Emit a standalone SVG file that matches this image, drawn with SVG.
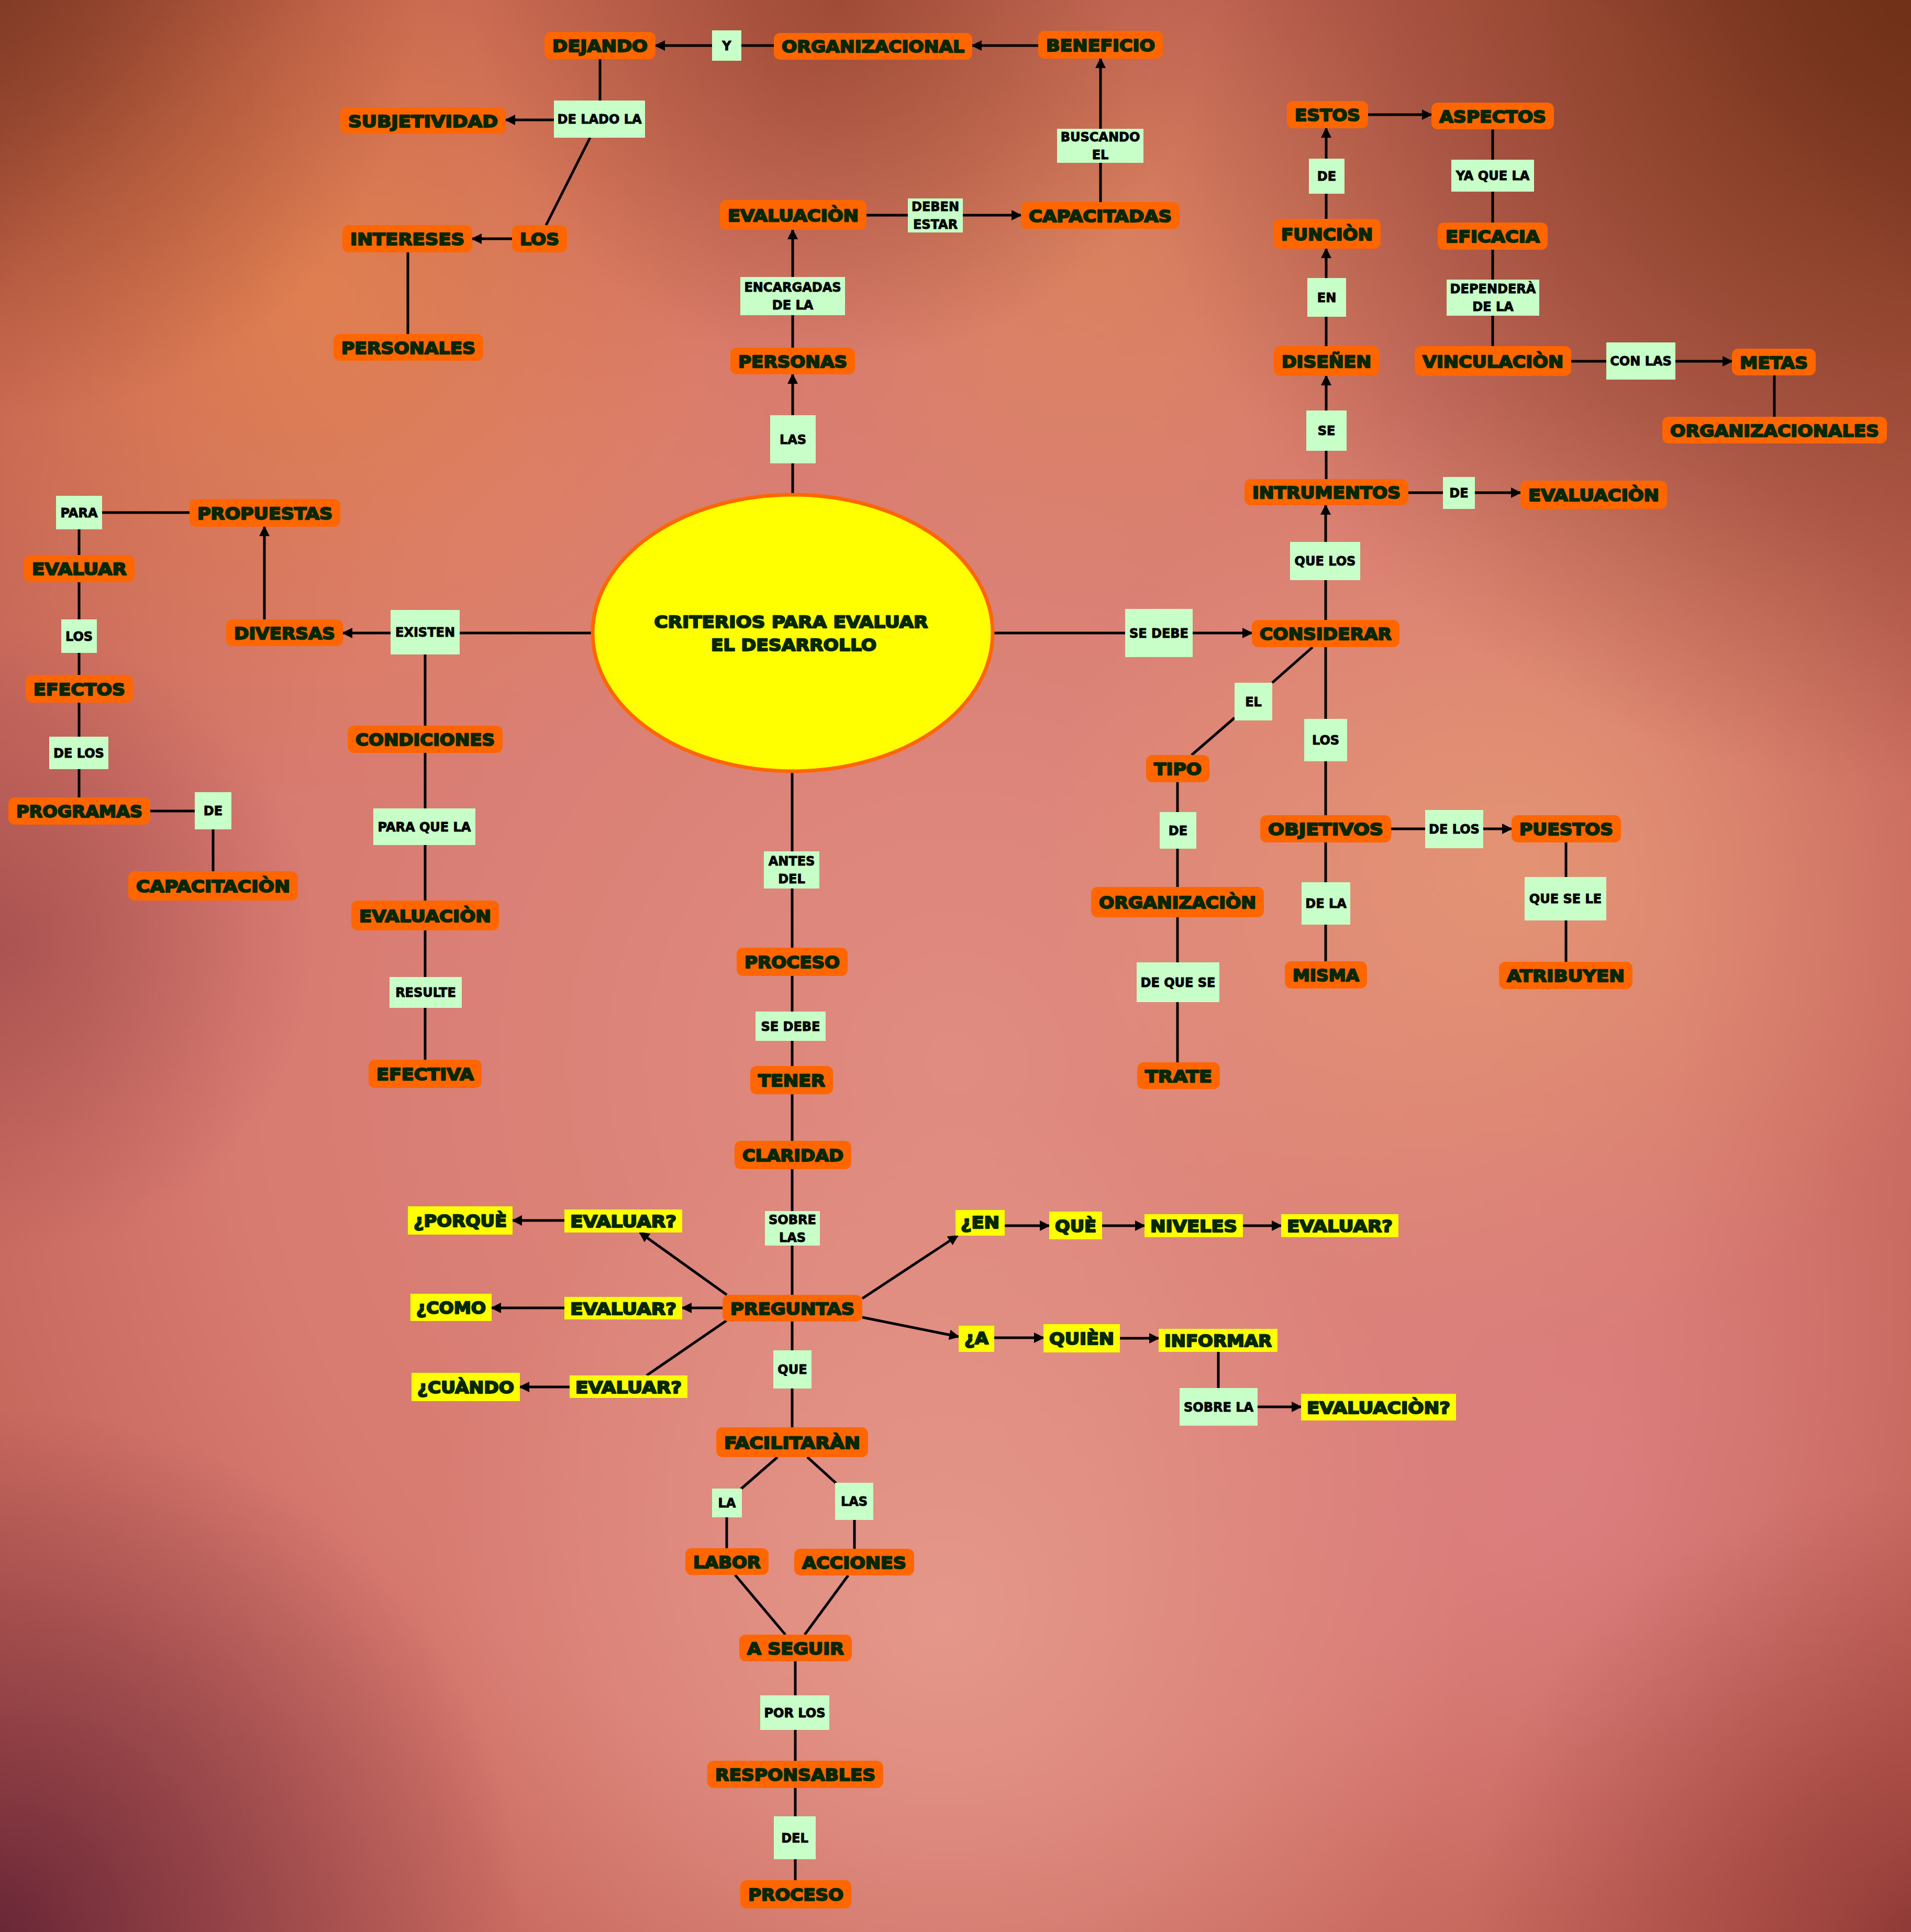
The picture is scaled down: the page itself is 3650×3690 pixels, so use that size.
<svg xmlns="http://www.w3.org/2000/svg" width="3650" height="3690" viewBox="0 0 3650 3690">
<style>
.o rect{fill:#ff6600}
.g rect{fill:#c8fec8}
.y rect{fill:#ffff00}
text{font-family:"DejaVu Sans","Liberation Sans",sans-serif;font-weight:bold;text-anchor:middle;stroke-linejoin:round}
.o text,.y text,.c text{font-size:32px;fill:#062806;stroke:#062806;stroke-width:2.3px}
.g text{font-size:24px;fill:#000;stroke:#000;stroke-width:1px}
#edges line{stroke:#000;stroke-width:5}
#edges line.ar{marker-end:url(#ar)}
</style>
<defs>
<marker id="ar" viewBox="0 0 20 20" refX="18" refY="10" markerWidth="20" markerHeight="20" markerUnits="userSpaceOnUse" orient="auto"><path d="M0,0 L20,10 L0,20 z" fill="#000"/></marker>
<radialGradient id="bgBase" cx="0.5" cy="0.55" r="0.75"><stop offset="0" stop-color="#e08c80"/><stop offset="0.5" stop-color="#d77a70"/><stop offset="0.85" stop-color="#bc5c50"/><stop offset="1" stop-color="#803434"/></radialGradient>
<radialGradient id="gOrange" cx="600" cy="550" r="1000" gradientUnits="userSpaceOnUse"><stop offset="0" stop-color="#e8884a" stop-opacity="0.7"/><stop offset="1" stop-color="#e8884a" stop-opacity="0"/></radialGradient>
<radialGradient id="gTR" cx="3650" cy="0" r="1500" gradientUnits="userSpaceOnUse"><stop offset="0" stop-color="#6e3015" stop-opacity="0.95"/><stop offset="1" stop-color="#7a3818" stop-opacity="0"/></radialGradient>
<radialGradient id="gTL" cx="0" cy="0" r="800" gradientUnits="userSpaceOnUse"><stop offset="0" stop-color="#7e3a20" stop-opacity="0.8"/><stop offset="1" stop-color="#8a3a20" stop-opacity="0"/></radialGradient>
<radialGradient id="gTop" cx="1600" cy="0" r="700" gradientUnits="userSpaceOnUse"><stop offset="0" stop-color="#8e4024" stop-opacity="0.7"/><stop offset="1" stop-color="#8e4024" stop-opacity="0"/></radialGradient>
<radialGradient id="gPeach" cx="2900" cy="1650" r="900" gradientUnits="userSpaceOnUse"><stop offset="0" stop-color="#eaa274" stop-opacity="0.6"/><stop offset="1" stop-color="#eaa274" stop-opacity="0"/></radialGradient>
<radialGradient id="gPeach2" cx="2100" cy="500" r="700" gradientUnits="userSpaceOnUse"><stop offset="0" stop-color="#e09050" stop-opacity="0.45"/><stop offset="1" stop-color="#e09050" stop-opacity="0"/></radialGradient>
<radialGradient id="gPink" cx="1800" cy="3100" r="1000" gradientUnits="userSpaceOnUse"><stop offset="0" stop-color="#eba898" stop-opacity="0.6"/><stop offset="1" stop-color="#eba898" stop-opacity="0"/></radialGradient>
<radialGradient id="gMag" cx="3000" cy="2850" r="800" gradientUnits="userSpaceOnUse"><stop offset="0" stop-color="#e0848e" stop-opacity="0.5"/><stop offset="1" stop-color="#e0848e" stop-opacity="0"/></radialGradient>
<radialGradient id="gBL" cx="0" cy="3690" r="1000" gradientUnits="userSpaceOnUse"><stop offset="0" stop-color="#5e2034" stop-opacity="0.85"/><stop offset="1" stop-color="#6a2438" stop-opacity="0"/></radialGradient>
<radialGradient id="gBR" cx="3650" cy="3690" r="850" gradientUnits="userSpaceOnUse"><stop offset="0" stop-color="#7e2c2c" stop-opacity="0.6"/><stop offset="1" stop-color="#8a3030" stop-opacity="0"/></radialGradient>
<radialGradient id="gLeft" cx="0" cy="1800" r="600" gradientUnits="userSpaceOnUse"><stop offset="0" stop-color="#8a3a40" stop-opacity="0.5"/><stop offset="1" stop-color="#8a3a40" stop-opacity="0"/></radialGradient>
</defs>
<g id="background">
<rect width="3650" height="3690" fill="url(#bgBase)"/>
<rect width="3650" height="3690" fill="url(#gOrange)"/>
<rect width="3650" height="3690" fill="url(#gPeach)"/>
<rect width="3650" height="3690" fill="url(#gPeach2)"/>
<rect width="3650" height="3690" fill="url(#gPink)"/>
<rect width="3650" height="3690" fill="url(#gMag)"/>
<rect width="3650" height="3690" fill="url(#gTR)"/>
<rect width="3650" height="3690" fill="url(#gTL)"/>
<rect width="3650" height="3690" fill="url(#gTop)"/>
<rect width="3650" height="3690" fill="url(#gBL)"/>
<rect width="3650" height="3690" fill="url(#gBR)"/>
<rect width="3650" height="3690" fill="url(#gLeft)"/>
</g>
<g id="edges">
<line x1="1146" y1="113" x2="1146" y2="192"/>
<line class="ar" x1="1058" y1="229" x2="966" y2="229"/>
<line x1="1127" y1="263" x2="1043" y2="430"/>
<line class="ar" x1="978" y1="456" x2="902" y2="456"/>
<line x1="779" y1="482" x2="779" y2="638"/>
<line class="ar" x1="1360" y1="87" x2="1252" y2="87"/>
<line x1="1478" y1="87" x2="1416" y2="87"/>
<line class="ar" x1="1983" y1="87" x2="1857" y2="87"/>
<line x1="2102" y1="386" x2="2102" y2="311"/>
<line class="ar" x1="2102" y1="246" x2="2102" y2="112"/>
<line x1="1655" y1="411" x2="1734" y2="411"/>
<line class="ar" x1="1839" y1="411" x2="1950" y2="411"/>
<line class="ar" x1="1514" y1="529" x2="1514" y2="439"/>
<line x1="1514" y1="664" x2="1514" y2="602"/>
<line class="ar" x1="1514" y1="793" x2="1514" y2="715"/>
<line x1="1514" y1="945" x2="1514" y2="885"/>
<line x1="1132" y1="1209" x2="878" y2="1209"/>
<line class="ar" x1="746" y1="1209" x2="655" y2="1209"/>
<line class="ar" x1="505" y1="1183" x2="505" y2="1006"/>
<line x1="195" y1="979" x2="362" y2="979"/>
<line x1="151" y1="1011" x2="151" y2="1060"/>
<line x1="151" y1="1112" x2="151" y2="1183"/>
<line x1="151" y1="1247" x2="151" y2="1289"/>
<line x1="151" y1="1342" x2="151" y2="1407"/>
<line x1="151" y1="1469" x2="151" y2="1523"/>
<line x1="287" y1="1549" x2="372" y2="1549"/>
<line x1="407" y1="1584" x2="407" y2="1664"/>
<line x1="812" y1="1250" x2="812" y2="1386"/>
<line x1="812" y1="1438" x2="812" y2="1544"/>
<line x1="812" y1="1614" x2="812" y2="1720"/>
<line x1="812" y1="1777" x2="812" y2="1866"/>
<line x1="812" y1="1925" x2="812" y2="2024"/>
<line x1="1513" y1="1473" x2="1513" y2="1626"/>
<line x1="1513" y1="1697" x2="1513" y2="1810"/>
<line x1="1513" y1="1864" x2="1513" y2="1932"/>
<line x1="1513" y1="1988" x2="1513" y2="2036"/>
<line x1="1513" y1="2090" x2="1513" y2="2179"/>
<line x1="1513" y1="2233" x2="1513" y2="2313"/>
<line x1="1513" y1="2379" x2="1513" y2="2473"/>
<line x1="1513" y1="2524" x2="1513" y2="2579"/>
<line x1="1513" y1="2652" x2="1513" y2="2726"/>
<line class="ar" x1="1388" y1="2473" x2="1222" y2="2354"/>
<line class="ar" x1="1380" y1="2498" x2="1303" y2="2498"/>
<line x1="1388" y1="2522" x2="1235" y2="2627"/>
<line class="ar" x1="1078" y1="2331" x2="979" y2="2331"/>
<line class="ar" x1="1078" y1="2498" x2="939" y2="2498"/>
<line class="ar" x1="1088" y1="2649" x2="993" y2="2649"/>
<line class="ar" x1="1647" y1="2480" x2="1829" y2="2360"/>
<line class="ar" x1="1919" y1="2341" x2="2004" y2="2341"/>
<line class="ar" x1="2105" y1="2341" x2="2186" y2="2341"/>
<line class="ar" x1="2374" y1="2341" x2="2447" y2="2341"/>
<line class="ar" x1="1647" y1="2516" x2="1831" y2="2553"/>
<line class="ar" x1="1899" y1="2555" x2="1993" y2="2555"/>
<line class="ar" x1="2139" y1="2556" x2="2213" y2="2556"/>
<line x1="2327" y1="2582" x2="2327" y2="2651"/>
<line class="ar" x1="2402" y1="2687" x2="2485" y2="2687"/>
<line x1="1485" y1="2783" x2="1415" y2="2844"/>
<line x1="1542" y1="2783" x2="1597" y2="2833"/>
<line x1="1388" y1="2898" x2="1388" y2="2957"/>
<line x1="1632" y1="2903" x2="1632" y2="2958"/>
<line x1="1404" y1="3008" x2="1500" y2="3122"/>
<line x1="1620" y1="3009" x2="1537" y2="3122"/>
<line x1="1519" y1="3173" x2="1519" y2="3238"/>
<line x1="1519" y1="3304" x2="1519" y2="3363"/>
<line x1="1519" y1="3415" x2="1519" y2="3469"/>
<line x1="1519" y1="3551" x2="1519" y2="3591"/>
<line x1="1897" y1="1209" x2="2149" y2="1209"/>
<line class="ar" x1="2278" y1="1209" x2="2391" y2="1209"/>
<line x1="2532" y1="1184" x2="2532" y2="1108"/>
<line class="ar" x1="2532" y1="1035" x2="2532" y2="965"/>
<line x1="2690" y1="941" x2="2756" y2="941"/>
<line class="ar" x1="2817" y1="941" x2="2904" y2="941"/>
<line x1="2533" y1="915" x2="2533" y2="861"/>
<line class="ar" x1="2533" y1="784" x2="2533" y2="718"/>
<line x1="2533" y1="661" x2="2533" y2="605"/>
<line class="ar" x1="2533" y1="531" x2="2533" y2="475"/>
<line x1="2533" y1="418" x2="2533" y2="370"/>
<line class="ar" x1="2533" y1="303" x2="2533" y2="245"/>
<line class="ar" x1="2613" y1="219" x2="2734" y2="219"/>
<line x1="2851" y1="247" x2="2851" y2="305"/>
<line x1="2851" y1="366" x2="2851" y2="425"/>
<line x1="2851" y1="477" x2="2851" y2="534"/>
<line x1="2851" y1="603" x2="2851" y2="661"/>
<line x1="3001" y1="690" x2="3068" y2="690"/>
<line class="ar" x1="3200" y1="690" x2="3308" y2="690"/>
<line x1="3389" y1="717" x2="3389" y2="796"/>
<line x1="2507" y1="1236" x2="2430" y2="1304"/>
<line x1="2358" y1="1371" x2="2276" y2="1442"/>
<line x1="2249" y1="1494" x2="2249" y2="1551"/>
<line x1="2249" y1="1621" x2="2249" y2="1694"/>
<line x1="2249" y1="1752" x2="2249" y2="1838"/>
<line x1="2249" y1="1914" x2="2249" y2="2029"/>
<line x1="2532" y1="1236" x2="2532" y2="1373"/>
<line x1="2532" y1="1454" x2="2532" y2="1557"/>
<line x1="2532" y1="1609" x2="2532" y2="1685"/>
<line x1="2532" y1="1766" x2="2532" y2="1836"/>
<line x1="2657" y1="1583" x2="2722" y2="1583"/>
<line class="ar" x1="2833" y1="1583" x2="2887" y2="1583"/>
<line x1="2991" y1="1609" x2="2991" y2="1675"/>
<line x1="2991" y1="1758" x2="2991" y2="1837"/>
</g>
<g id="center" class="c">
<ellipse cx="1514" cy="1209" rx="382" ry="264" fill="#ffff00" stroke="#ff6600" stroke-width="7"/>
<text x="1511" y="1199" textLength="523" lengthAdjust="spacingAndGlyphs">CRITERIOS PARA EVALUAR</text>
<text x="1516" y="1243" textLength="316" lengthAdjust="spacingAndGlyphs">EL DESARROLLO</text>
</g>
<g id="nodes">
<g id="n-dejando" class="o"><rect x="1040" y="61" width="212" height="52" rx="12"/><text x="1146" y="99" textLength="182" lengthAdjust="spacingAndGlyphs">DEJANDO</text></g>
<g id="n-organizacional" class="o"><rect x="1478" y="63" width="379" height="51" rx="12"/><text x="1667.5" y="100" textLength="349" lengthAdjust="spacingAndGlyphs">ORGANIZACIONAL</text></g>
<g id="n-beneficio" class="o"><rect x="1983" y="59" width="238" height="53" rx="12"/><text x="2102" y="97.5" textLength="208" lengthAdjust="spacingAndGlyphs">BENEFICIO</text></g>
<g id="n-evaluacion1" class="o"><rect x="1375" y="382" width="280" height="57" rx="12"/><text x="1515" y="422.5" textLength="250" lengthAdjust="spacingAndGlyphs">EVALUACIÒN</text></g>
<g id="n-capacitadas" class="o"><rect x="1950" y="386" width="303" height="51" rx="12"/><text x="2101.5" y="423.5" textLength="273" lengthAdjust="spacingAndGlyphs">CAPACITADAS</text></g>
<g id="n-subjetividad" class="o"><rect x="650" y="205" width="316" height="51" rx="12"/><text x="808" y="242.5" textLength="286" lengthAdjust="spacingAndGlyphs">SUBJETIVIDAD</text></g>
<g id="n-los1" class="o"><rect x="978" y="430" width="105" height="52" rx="12"/><text x="1030.5" y="468" textLength="75" lengthAdjust="spacingAndGlyphs">LOS</text></g>
<g id="n-intereses" class="o"><rect x="654" y="430" width="248" height="52" rx="12"/><text x="778" y="468" textLength="218" lengthAdjust="spacingAndGlyphs">INTERESES</text></g>
<g id="n-personales" class="o"><rect x="637" y="638" width="286" height="51" rx="12"/><text x="780" y="675.5" textLength="256" lengthAdjust="spacingAndGlyphs">PERSONALES</text></g>
<g id="n-personas" class="o"><rect x="1395" y="664" width="238" height="51" rx="12"/><text x="1514" y="701.5" textLength="208" lengthAdjust="spacingAndGlyphs">PERSONAS</text></g>
<g id="n-diversas" class="o"><rect x="432" y="1183" width="223" height="51" rx="12"/><text x="543.5" y="1220.5" textLength="193" lengthAdjust="spacingAndGlyphs">DIVERSAS</text></g>
<g id="n-propuestas" class="o"><rect x="362" y="953" width="288" height="53" rx="12"/><text x="506" y="991.5" textLength="258" lengthAdjust="spacingAndGlyphs">PROPUESTAS</text></g>
<g id="n-evaluar" class="o"><rect x="46" y="1060" width="211" height="52" rx="12"/><text x="151.5" y="1098" textLength="181" lengthAdjust="spacingAndGlyphs">EVALUAR</text></g>
<g id="n-efectos" class="o"><rect x="49" y="1289" width="205" height="53" rx="12"/><text x="151.5" y="1327.5" textLength="175" lengthAdjust="spacingAndGlyphs">EFECTOS</text></g>
<g id="n-programas" class="o"><rect x="16" y="1523" width="271" height="52" rx="12"/><text x="151.5" y="1561" textLength="241" lengthAdjust="spacingAndGlyphs">PROGRAMAS</text></g>
<g id="n-capacitacion" class="o"><rect x="245" y="1664" width="324" height="56" rx="12"/><text x="407" y="1704" textLength="294" lengthAdjust="spacingAndGlyphs">CAPACITACIÒN</text></g>
<g id="n-condiciones" class="o"><rect x="664" y="1386" width="296" height="52" rx="12"/><text x="812" y="1424" textLength="266" lengthAdjust="spacingAndGlyphs">CONDICIONES</text></g>
<g id="n-evaluacion2" class="o"><rect x="671" y="1720" width="282" height="57" rx="12"/><text x="812" y="1760.5" textLength="252" lengthAdjust="spacingAndGlyphs">EVALUACIÒN</text></g>
<g id="n-efectiva" class="o"><rect x="704" y="2024" width="216" height="54" rx="12"/><text x="812" y="2063" textLength="186" lengthAdjust="spacingAndGlyphs">EFECTIVA</text></g>
<g id="n-proceso1" class="o"><rect x="1407" y="1810" width="212" height="54" rx="12"/><text x="1513" y="1849" textLength="182" lengthAdjust="spacingAndGlyphs">PROCESO</text></g>
<g id="n-tener" class="o"><rect x="1433" y="2036" width="158" height="54" rx="12"/><text x="1512" y="2075" textLength="128" lengthAdjust="spacingAndGlyphs">TENER</text></g>
<g id="n-claridad" class="o"><rect x="1403" y="2179" width="223" height="54" rx="12"/><text x="1514.5" y="2218" textLength="193" lengthAdjust="spacingAndGlyphs">CLARIDAD</text></g>
<g id="n-preguntas" class="o"><rect x="1380" y="2473" width="267" height="51" rx="12"/><text x="1513.5" y="2510.5" textLength="237" lengthAdjust="spacingAndGlyphs">PREGUNTAS</text></g>
<g id="n-facilitaran" class="o"><rect x="1368" y="2726" width="290" height="57" rx="12"/><text x="1513" y="2766.5" textLength="260" lengthAdjust="spacingAndGlyphs">FACILITARÀN</text></g>
<g id="n-labor" class="o"><rect x="1309" y="2957" width="159" height="51" rx="12"/><text x="1388.5" y="2994.5" textLength="129" lengthAdjust="spacingAndGlyphs">LABOR</text></g>
<g id="n-acciones" class="o"><rect x="1517" y="2958" width="229" height="51" rx="12"/><text x="1631.5" y="2995.5" textLength="199" lengthAdjust="spacingAndGlyphs">ACCIONES</text></g>
<g id="n-aseguir" class="o"><rect x="1412" y="3122" width="215" height="51" rx="12"/><text x="1519.5" y="3159.5" textLength="185" lengthAdjust="spacingAndGlyphs">A SEGUIR</text></g>
<g id="n-responsables" class="o"><rect x="1351" y="3363" width="336" height="52" rx="12"/><text x="1519" y="3401" textLength="306" lengthAdjust="spacingAndGlyphs">RESPONSABLES</text></g>
<g id="n-proceso2" class="o"><rect x="1414" y="3591" width="212" height="54" rx="12"/><text x="1520" y="3630" textLength="182" lengthAdjust="spacingAndGlyphs">PROCESO</text></g>
<g id="n-considerar" class="o"><rect x="2391" y="1184" width="282" height="52" rx="12"/><text x="2532" y="1222" textLength="252" lengthAdjust="spacingAndGlyphs">CONSIDERAR</text></g>
<g id="n-intrumentos" class="o"><rect x="2377" y="915" width="313" height="50" rx="12"/><text x="2533.5" y="952" textLength="283" lengthAdjust="spacingAndGlyphs">INTRUMENTOS</text></g>
<g id="n-evaluacion3" class="o"><rect x="2904" y="918" width="280" height="54" rx="12"/><text x="3044" y="957" textLength="250" lengthAdjust="spacingAndGlyphs">EVALUACIÒN</text></g>
<g id="n-disenen" class="o"><rect x="2433" y="661" width="201" height="57" rx="12"/><text x="2533.5" y="701.5" textLength="171" lengthAdjust="spacingAndGlyphs">DISEÑEN</text></g>
<g id="n-funcion" class="o"><rect x="2432" y="418" width="205" height="57" rx="12"/><text x="2534.5" y="458.5" textLength="175" lengthAdjust="spacingAndGlyphs">FUNCIÒN</text></g>
<g id="n-estos" class="o"><rect x="2458" y="193" width="155" height="52" rx="12"/><text x="2535.5" y="231" textLength="125" lengthAdjust="spacingAndGlyphs">ESTOS</text></g>
<g id="n-aspectos" class="o"><rect x="2734" y="196" width="234" height="51" rx="12"/><text x="2851" y="233.5" textLength="204" lengthAdjust="spacingAndGlyphs">ASPECTOS</text></g>
<g id="n-eficacia" class="o"><rect x="2746" y="425" width="210" height="52" rx="12"/><text x="2851" y="463" textLength="180" lengthAdjust="spacingAndGlyphs">EFICACIA</text></g>
<g id="n-vinculacion" class="o"><rect x="2702" y="661" width="299" height="57" rx="12"/><text x="2851.5" y="701.5" textLength="269" lengthAdjust="spacingAndGlyphs">VINCULACIÒN</text></g>
<g id="n-metas" class="o"><rect x="3308" y="666" width="160" height="51" rx="12"/><text x="3388" y="703.5" textLength="130" lengthAdjust="spacingAndGlyphs">METAS</text></g>
<g id="n-organizacionales" class="o"><rect x="3175" y="796" width="429" height="51" rx="12"/><text x="3389.5" y="833.5" textLength="399" lengthAdjust="spacingAndGlyphs">ORGANIZACIONALES</text></g>
<g id="n-tipo" class="o"><rect x="2189" y="1442" width="121" height="52" rx="12"/><text x="2249.5" y="1480" textLength="91" lengthAdjust="spacingAndGlyphs">TIPO</text></g>
<g id="n-organizacion" class="o"><rect x="2084" y="1694" width="330" height="58" rx="12"/><text x="2249" y="1735" textLength="300" lengthAdjust="spacingAndGlyphs">ORGANIZACIÒN</text></g>
<g id="n-trate" class="o"><rect x="2172" y="2029" width="158" height="51" rx="12"/><text x="2251" y="2066.5" textLength="128" lengthAdjust="spacingAndGlyphs">TRATE</text></g>
<g id="n-objetivos" class="o"><rect x="2407" y="1557" width="250" height="52" rx="12"/><text x="2532" y="1595" textLength="220" lengthAdjust="spacingAndGlyphs">OBJETIVOS</text></g>
<g id="n-misma" class="o"><rect x="2454" y="1836" width="157" height="52" rx="12"/><text x="2532.5" y="1874" textLength="127" lengthAdjust="spacingAndGlyphs">MISMA</text></g>
<g id="n-puestos" class="o"><rect x="2887" y="1557" width="209" height="52" rx="12"/><text x="2991.5" y="1595" textLength="179" lengthAdjust="spacingAndGlyphs">PUESTOS</text></g>
<g id="n-atribuyen" class="o"><rect x="2863" y="1837" width="255" height="52" rx="12"/><text x="2990.5" y="1875" textLength="225" lengthAdjust="spacingAndGlyphs">ATRIBUYEN</text></g>

<g id="l-y" class="g"><rect x="1360" y="58" width="56" height="58"/><text x="1388" y="95.5">Y</text></g>
<g id="l-delado" class="g"><rect x="1058" y="192" width="174" height="71"/><text x="1145" y="236">DE LADO LA</text></g>
<g id="l-buscando" class="g"><rect x="2019" y="246" width="165" height="65"/><text x="2101.5" y="270">BUSCANDO</text><text x="2101.5" y="304">EL</text></g>
<g id="l-deben" class="g"><rect x="1734" y="379" width="105" height="65"/><text x="1786.5" y="403">DEBEN</text><text x="1786.5" y="437">ESTAR</text></g>
<g id="l-encargadas" class="g"><rect x="1414" y="529" width="200" height="73"/><text x="1514" y="557">ENCARGADAS</text><text x="1514" y="591">DE LA</text></g>
<g id="l-las1" class="g"><rect x="1471" y="793" width="87" height="92"/><text x="1514.5" y="847.5">LAS</text></g>
<g id="l-existen" class="g"><rect x="746" y="1165" width="132" height="85"/><text x="812" y="1216">EXISTEN</text></g>
<g id="l-para" class="g"><rect x="107" y="947" width="88" height="64"/><text x="151" y="987.5">PARA</text></g>
<g id="l-los2" class="g"><rect x="117" y="1183" width="68" height="64"/><text x="151" y="1223.5">LOS</text></g>
<g id="l-delos1" class="g"><rect x="94" y="1407" width="113" height="62"/><text x="150.5" y="1446.5">DE LOS</text></g>
<g id="l-de1" class="g"><rect x="372" y="1513" width="70" height="71"/><text x="407" y="1557">DE</text></g>
<g id="l-paraque" class="g"><rect x="713" y="1544" width="195" height="70"/><text x="810.5" y="1587.5">PARA QUE LA</text></g>
<g id="l-resulte" class="g"><rect x="744" y="1866" width="138" height="59"/><text x="813" y="1904">RESULTE</text></g>
<g id="l-antes" class="g"><rect x="1459" y="1626" width="106" height="71"/><text x="1512" y="1653">ANTES</text><text x="1512" y="1687">DEL</text></g>
<g id="l-sedebe1" class="g"><rect x="1443" y="1932" width="134" height="56"/><text x="1510" y="1968.5">SE DEBE</text></g>
<g id="l-sobre" class="g"><rect x="1461" y="2313" width="105" height="66"/><text x="1513.5" y="2337.5">SOBRE</text><text x="1513.5" y="2371.5">LAS</text></g>
<g id="l-que" class="g"><rect x="1477" y="2579" width="73" height="73"/><text x="1513.5" y="2624">QUE</text></g>
<g id="l-la" class="g"><rect x="1360" y="2843" width="57" height="55"/><text x="1388.5" y="2879">LA</text></g>
<g id="l-las2" class="g"><rect x="1595" y="2832" width="73" height="71"/><text x="1631.5" y="2876">LAS</text></g>
<g id="l-porlos" class="g"><rect x="1452" y="3238" width="132" height="66"/><text x="1518" y="3279.5">POR LOS</text></g>
<g id="l-del" class="g"><rect x="1478" y="3469" width="80" height="82"/><text x="1518" y="3518.5">DEL</text></g>
<g id="l-sobrela" class="g"><rect x="2253" y="2651" width="149" height="72"/><text x="2327.5" y="2695.5">SOBRE LA</text></g>
<g id="l-sedebe2" class="g"><rect x="2149" y="1163" width="129" height="92"/><text x="2213.5" y="1217.5">SE DEBE</text></g>
<g id="l-quelos" class="g"><rect x="2464" y="1035" width="134" height="73"/><text x="2531" y="1080">QUE LOS</text></g>
<g id="l-de2" class="g"><rect x="2756" y="911" width="61" height="61"/><text x="2786.5" y="950">DE</text></g>
<g id="l-se" class="g"><rect x="2495" y="784" width="77" height="77"/><text x="2533.5" y="831">SE</text></g>
<g id="l-en" class="g"><rect x="2497" y="531" width="74" height="74"/><text x="2534" y="576.5">EN</text></g>
<g id="l-de3" class="g"><rect x="2500" y="303" width="68" height="67"/><text x="2534" y="345">DE</text></g>
<g id="l-yaque" class="g"><rect x="2772" y="305" width="158" height="61"/><text x="2851" y="344">YA QUE LA</text></g>
<g id="l-dependera" class="g"><rect x="2763" y="534" width="177" height="69"/><text x="2851.5" y="560">DEPENDERÀ</text><text x="2851.5" y="594">DE LA</text></g>
<g id="l-conlas" class="g"><rect x="3068" y="654" width="132" height="71"/><text x="3134" y="698">CON LAS</text></g>
<g id="l-el" class="g"><rect x="2358" y="1304" width="72" height="72"/><text x="2394" y="1348.5">EL</text></g>
<g id="l-de4" class="g"><rect x="2215" y="1551" width="70" height="70"/><text x="2250" y="1594.5">DE</text></g>
<g id="l-dequese" class="g"><rect x="2171" y="1838" width="158" height="76"/><text x="2250" y="1884.5">DE QUE SE</text></g>
<g id="l-los3" class="g"><rect x="2491" y="1373" width="82" height="81"/><text x="2532" y="1422">LOS</text></g>
<g id="l-dela" class="g"><rect x="2486" y="1685" width="93" height="81"/><text x="2532.5" y="1734">DE LA</text></g>
<g id="l-delos2" class="g"><rect x="2722" y="1547" width="111" height="73"/><text x="2777.5" y="1592">DE LOS</text></g>
<g id="l-queselo" class="g"><rect x="2912" y="1675" width="156" height="83"/><text x="2990" y="1725">QUE SE LE</text></g>

<g id="q-porque" class="y"><rect x="779" y="2304" width="200" height="54"/><text x="879" y="2343" textLength="178" lengthAdjust="spacingAndGlyphs">¿PORQUÈ</text></g>
<g id="q-como" class="y"><rect x="784" y="2471" width="155" height="52"/><text x="861.5" y="2509" textLength="133" lengthAdjust="spacingAndGlyphs">¿COMO</text></g>
<g id="q-cuando" class="y"><rect x="786" y="2622" width="207" height="54"/><text x="889.5" y="2661" textLength="185" lengthAdjust="spacingAndGlyphs">¿CUÀNDO</text></g>
<g id="q-ev1" class="y"><rect x="1078" y="2310" width="225" height="44"/><text x="1190.5" y="2344" textLength="203" lengthAdjust="spacingAndGlyphs">EVALUAR?</text></g>
<g id="q-ev2" class="y"><rect x="1078" y="2477" width="225" height="43"/><text x="1190.5" y="2510.5" textLength="203" lengthAdjust="spacingAndGlyphs">EVALUAR?</text></g>
<g id="q-ev3" class="y"><rect x="1088" y="2627" width="225" height="43"/><text x="1200.5" y="2660.5" textLength="203" lengthAdjust="spacingAndGlyphs">EVALUAR?</text></g>
<g id="q-en" class="y"><rect x="1825" y="2311" width="94" height="49"/><text x="1872" y="2346" textLength="74" lengthAdjust="spacingAndGlyphs">¿EN</text></g>
<g id="q-que" class="y"><rect x="2004" y="2314" width="101" height="53"/><text x="2054.5" y="2352.5" textLength="79" lengthAdjust="spacingAndGlyphs">QUÈ</text></g>
<g id="q-niveles" class="y"><rect x="2186" y="2319" width="188" height="44"/><text x="2280" y="2353" textLength="166" lengthAdjust="spacingAndGlyphs">NIVELES</text></g>
<g id="q-ev4" class="y"><rect x="2447" y="2319" width="224" height="44"/><text x="2559" y="2353" textLength="202" lengthAdjust="spacingAndGlyphs">EVALUAR?</text></g>
<g id="q-a" class="y"><rect x="1831" y="2532" width="68" height="50"/><text x="1865" y="2567" textLength="46" lengthAdjust="spacingAndGlyphs">¿A</text></g>
<g id="q-quien" class="y"><rect x="1993" y="2529" width="146" height="54"/><text x="2066" y="2568" textLength="124" lengthAdjust="spacingAndGlyphs">QUIÈN</text></g>
<g id="q-informar" class="y"><rect x="2213" y="2538" width="227" height="44"/><text x="2326.5" y="2572" textLength="205" lengthAdjust="spacingAndGlyphs">INFORMAR</text></g>
<g id="q-evaluacion" class="y"><rect x="2485" y="2662" width="296" height="51"/><text x="2633" y="2699.5" textLength="274" lengthAdjust="spacingAndGlyphs">EVALUACIÒN?</text></g>
</g>
</svg>
